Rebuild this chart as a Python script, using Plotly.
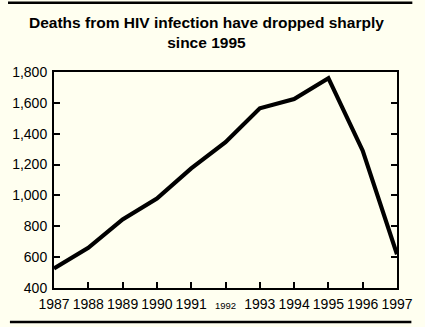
import plotly.graph_objects as go

years = [1987, 1988, 1989, 1990, 1991, 1992, 1993, 1994, 1995, 1996, 1997]
deaths = [527, 660, 845, 980, 1175, 1345, 1565, 1625, 1760, 1290, 618]
x_tick_labels = ["1987", "1988", "1989", "1990", "1991",
                 "<span style='font-size:9.5px'>1992</span>",
                 "1993", "1994", "1995", "1996", "1997"]
y_tick_vals = [400, 600, 800, 1000, 1200, 1400, 1600, 1800]
y_tick_labels = ["400", "600", "800", "1,000", "1,200", "1,400", "1,600", "1,800"]
title_lines = ["Deaths from HIV infection have dropped sharply", "since 1995"]

BG = "#FFFFF0"
FONT = "Liberation Sans, Arial, Helvetica, sans-serif"

L, R, T, B = 49, 18, 72, 39
W, H = 425, 327
pw, ph = W - L - R, H - T - B

def px_x(p):
    return (p - L) / pw

def px_y(p):
    return (H - B - p) / ph

fig = go.Figure()
fig.add_trace(go.Scatter(x=years, y=deaths, mode="lines",
                         line=dict(color="black", width=4.2),
                         hoverinfo="skip", showlegend=False))

fig.update_layout(
    width=W, height=H,
    margin=dict(l=L, r=R, t=T, b=B, pad=0),
    paper_bgcolor=BG, plot_bgcolor=BG,
    font=dict(family=FONT, size=14, color="black"),
    showlegend=False,
)
fig.update_xaxes(range=[1987, 1997], tickvals=years, ticktext=x_tick_labels,
                 ticks="inside", ticklen=6, tickwidth=2, tickcolor="black",
                 showline=True, linewidth=2, linecolor="black", mirror=True,
                 showgrid=False, zeroline=False, ticklabelstandoff=2,
                 tickfont=dict(family=FONT, size=14, color="black"))
fig.update_yaxes(range=[400, 1800], tickvals=y_tick_vals, ticktext=y_tick_labels,
                 ticks="inside", ticklen=6, tickwidth=2, tickcolor="black",
                 showline=True, linewidth=2, linecolor="black", mirror="ticks",
                 showgrid=False, zeroline=False, ticklabelstandoff=2,
                 tickfont=dict(family=FONT, size=14, color="black"))

# title (two lines)
fig.add_annotation(text="<b>" + "<br>".join(title_lines) + "</b>",
                   xref="paper", yref="paper",
                   x=px_x(208), y=px_y(33), xanchor="center", yanchor="middle",
                   align="center", showarrow=False,
                   font=dict(family=FONT, size=15.5, color="black"))

# rules at top and bottom
fig.add_shape(type="line", xref="paper", yref="paper",
              x0=px_x(1), x1=px_x(423), y0=px_y(2.7), y1=px_y(2.7),
              line=dict(color="black", width=2.5))
fig.add_shape(type="line", xref="paper", yref="paper",
              x0=px_x(3), x1=px_x(422), y0=px_y(322), y1=px_y(322),
              line=dict(color="black", width=2.5))

fig.write_html("out.html")
